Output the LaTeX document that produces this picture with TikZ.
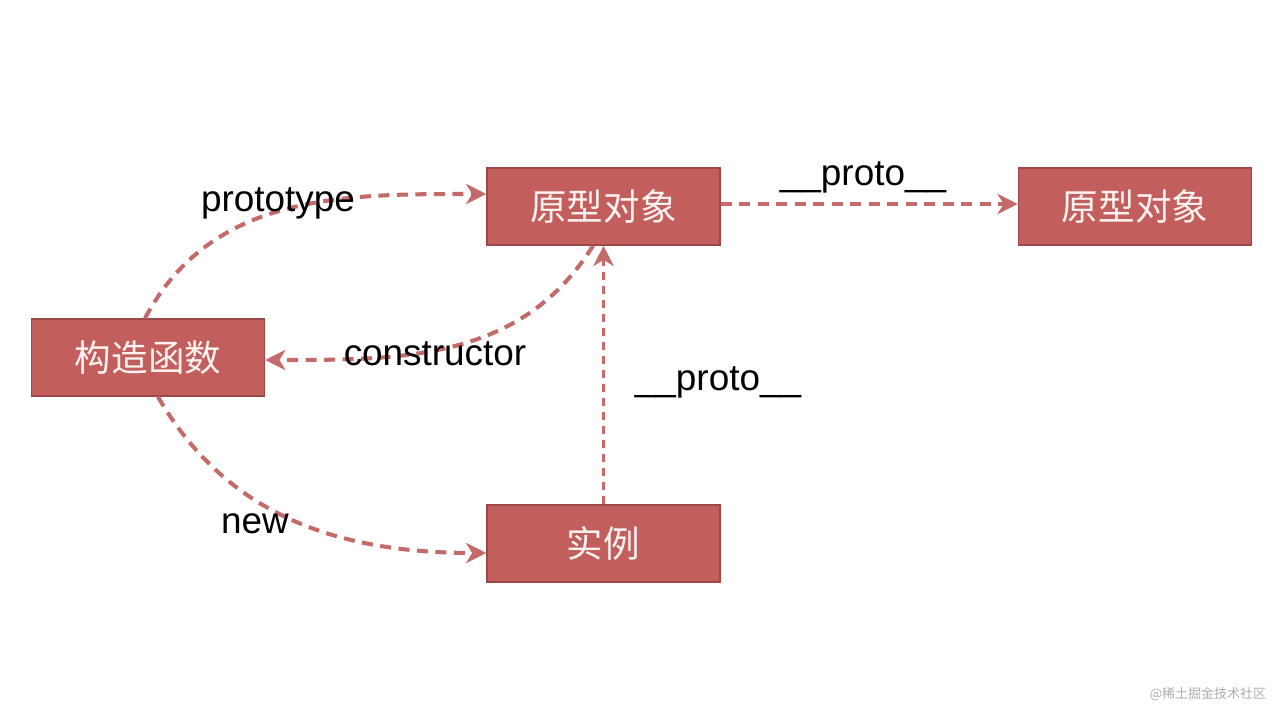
\documentclass[tikz,border=0pt]{standalone}
\usepackage{fontspec}
\setmainfont{Liberation Sans}
\newfontfamily\cjk{Noto Sans CJK SC}
\usetikzlibrary{arrows.meta,calc}

\definecolor{boxfill}{HTML}{C25F5D}
\definecolor{boxline}{HTML}{9C4846}
\definecolor{linkred}{HTML}{C46A68}
\definecolor{boxtext}{HTML}{FCF2F2}

\tikzset{
  objbox/.style={draw=boxline,fill=boxfill,line width=0.9pt,minimum width=4.66cm,
    minimum height=1.54cm,inner sep=0pt,text=boxtext,font=\cjk\fontsize{20.8}{24}\selectfont},
  link/.style={draw=linkred,line width=2.3pt,dash pattern=on 0.22cm off 0.15cm,
    -{Stealth[length=11.5pt,width=11.5pt,inset=3.5pt]}},
  linklabel/.style={inner sep=0pt,text=black,font=\fontsize{21}{25}\selectfont}
}

\begin{document}
\begin{tikzpicture}[x=0.02cm,y=0.02cm]
  \useasboundingbox[fill=white] (0,0) rectangle (1280,720);
  % Boxes
  \node[objbox] (ctor)   at (148,362.5)    {构造函数};
  \node[objbox] (proto)  at (603.5,513.5)  {原型对象};
  \node[objbox] (protob) at (1135,513.5)   {原型对象};
  \node[objbox] (inst)   at (603.5,176.5)  {实例};
  % Links
  \draw[link] ([xshift=-0.06cm]ctor.north) to[out=62,in=180] ([yshift=0.25cm]proto.west);
  \draw[link] ([yshift=0.05cm]proto.east) -- ([yshift=0.05cm]protob.west);
  \draw[link] ([xshift=-0.21cm]proto.south) to[out=238,in=0] ([yshift=-0.05cm]ctor.east);
  \draw[link] ([xshift=0.2cm]ctor.south) to[out=-60,in=180] ([yshift=-0.19cm]inst.west);
  \draw[link,line width=1.9pt,dash pattern=on 0.16cm off 0.12cm] (inst.north) -- (proto.south);
  % Labels
  \node[linklabel] (lproto)  at (278,517) {prototype};
  \node[linklabel] (lup)     at (863,543) {\_\_proto\_\_};
  \node[linklabel] (lctor)   at (435,366) {constructor};
  \node[linklabel] (lmid)    at (718,338) {\_\_proto\_\_};
  \node[linklabel] (lnew)    at (255,196) {new};
  % Watermark
  \node[inner sep=0pt,text=black!32,font=\cjk\fontsize{7.4}{9}\selectfont] (mark) at (1208,26) {@稀土掘金技术社区};
\end{tikzpicture}
\end{document}
